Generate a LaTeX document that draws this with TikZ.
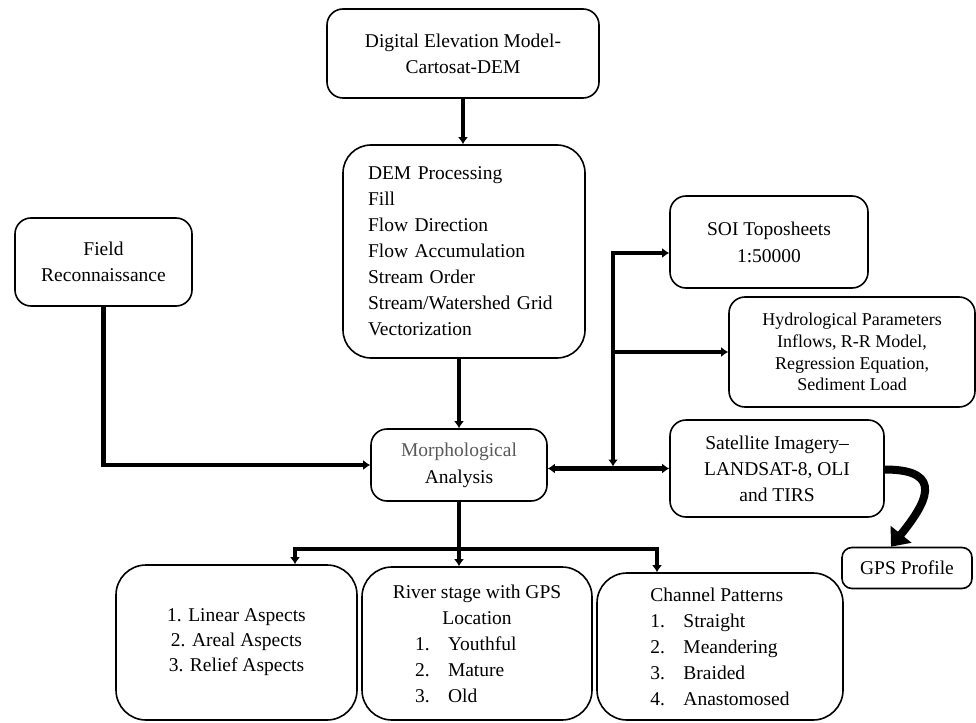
\documentclass[tikz,border=0pt]{standalone}
\usepackage{fontspec}
\setmainfont{Liberation Serif}
\usetikzlibrary{arrows.meta}
\tikzstyle{block} = [draw, line width=1.6pt, rounded corners=16pt, align=center, inner sep=0pt, font=\fontsize{19.5}{26}\selectfont]
\tikzstyle{line} = [line width=4.5pt, -{Latex[length=7pt,width=10pt]}]
\tikzstyle{twoway} = [line width=4.5pt, {Latex[length=7pt,width=10pt]}-{Latex[length=7pt,width=10pt]}]
\tikzstyle{curvy} = [line width=8pt, -{Triangle[length=16pt,width=26pt]}]
\newcommand{\litem}[2]{\makebox[33pt][l]{#1}#2}

\begin{document}
\begin{tikzpicture}[x=1pt,y=-1pt]
        \useasboundingbox (0,0) rectangle (976,722);
        %Blocks
        \node [block, minimum width=272pt, minimum height=89pt] (dem) at (463,53.5) {Digital Elevation Model-\\Cartosat-DEM};
        \node [block, rounded corners=28pt, align=left, text width=192pt, inner xsep=25pt, minimum height=213pt] (proc) at (464,251.5)
            {DEM Processing\\Fill\\Flow Direction\\Flow Accumulation\\Stream Order\\Stream/Watershed Grid\\Vectorization};
        \node [block, minimum width=177pt, minimum height=88pt] (field) at (103.5,262) {Field\\Reconnaissance};
        \node [block, minimum width=176pt, minimum height=72pt, font=\fontsize{19.5}{27}\selectfont] (morph) at (459,465) {\textcolor{black!65}{Morphological}\\Analysis};
        \node [block, minimum width=198pt, minimum height=92pt, font=\fontsize{19.5}{27}\selectfont] (soi) at (769,242) {SOI Toposheets\\1:50000};
        \node [block, minimum width=246pt, minimum height=110pt, font=\fontsize{18}{21.7}\selectfont] (hydro) at (852,352)
            {Hydrological Parameters\\Inflows, R-R Model,\\Regression Equation,\\Sediment Load};
        \node [block, minimum width=214pt, minimum height=97pt] (sat) at (777,468.5) {Satellite Imagery--\\LANDSAT-8, OLI\\and TIRS};
        \node [block, rounded corners=10pt, minimum width=130pt, minimum height=41pt] (gps) at (907,568) {GPS Profile};
        \node [block, rounded corners=30pt, minimum width=241pt, minimum height=155pt, font=\fontsize{19.5}{25}\selectfont] (aspects) at (236.5,642.5)
            {1. Linear Aspects\\2. Areal Aspects\\3. Relief Aspects};
        \node [block, rounded corners=30pt, minimum width=230pt, minimum height=153pt] (stage) at (477,643.5)
            {River stage with GPS\\Location\\\makebox[124pt][l]{\litem{1.}{Youthful}}\\\makebox[124pt][l]{\litem{2.}{Mature}}\\\makebox[124pt][l]{\litem{3.}{Old}}};
        \node [block, rounded corners=30pt, align=left, minimum width=246pt, minimum height=147pt] (pattern) at (720,646.5)
            {Channel Patterns\\\litem{1.}{Straight}\\\litem{2.}{Meandering}\\\litem{3.}{Braided}\\\litem{4.}{Anastomosed}};
        %Junctions
        \coordinate (jtop) at (613,253);
        \coordinate (sl) at (295,549);
        \coordinate (sr) at (657,549);
        %Arrows
        \draw[line] (dem) -- (dem |- proc.north);
        \draw[line] (morph.north |- proc.south) -- (morph.north);
        \draw[line] (field.south) |- (morph.west);
        \draw[twoway] (morph.east |- sat.west) -- (sat.west);
        \draw[twoway, shorten >=2pt] (jtop -| soi.west) -- (jtop) -- (jtop |- sat.west);
        \draw[line] (jtop |- hydro.west) -- (hydro.west);
        \draw[line] (morph.south) -- (morph.south |- stage.north);
        \draw[twoway] (sl |- aspects.north) -- (sl) -- (sr) -- (sr |- pattern.north);
        \draw[curvy] ([yshift=-1pt]sat.east) .. controls +(62,0) and +(34,-42) .. ([xshift=-16pt]gps.north);
    \end{tikzpicture}
\end{document}
